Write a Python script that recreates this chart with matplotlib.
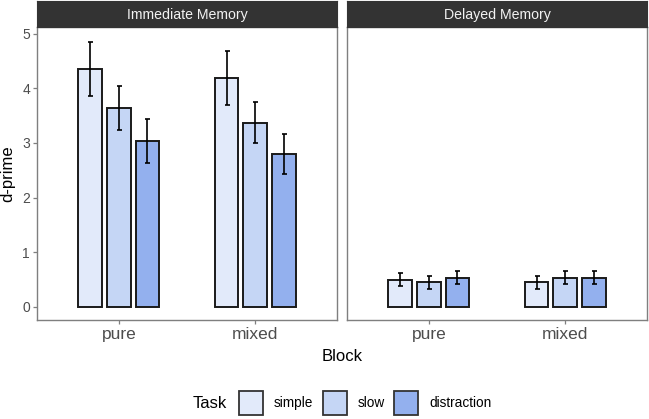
import numpy as np
import matplotlib
matplotlib.use("Agg")
import matplotlib.pyplot as plt
from matplotlib.patches import Rectangle

plt.rcParams['font.family'] = ['Liberation Sans', 'DejaVu Sans']

panels = ["Immediate Memory", "Delayed Memory"]
blocks = ["pure", "mixed"]
tasks = ["simple", "slow", "distraction"]
colors = ["#E2EAFA", "#C5D6F5", "#93B0EE"]

# mean d-prime [panel][task][block]
means = {
    "Immediate Memory": [[4.35, 4.19], [3.64, 3.37], [3.04, 2.80]],
    "Delayed Memory": [[0.50, 0.45], [0.45, 0.53], [0.53, 0.53]],
}
errs = {
    "Immediate Memory": [[0.50, 0.50], [0.40, 0.38], [0.40, 0.37]],
    "Delayed Memory": [[0.12, 0.12], [0.12, 0.12], [0.12, 0.12]],
}

W, H = 649, 419
fig = plt.figure(figsize=(W / 100, H / 100), dpi=100)

def fx(px):
    return px / W

def fy(py):
    return 1 - py / H

panel_left = [37, 347]
panel_w = 300
top, bottom = 27, 320
strip_top = 1

dodge = 0.21
bw = 0.175
x = np.arange(1, len(blocks) + 1)

for i, name in enumerate(panels):
    ax = fig.add_axes([fx(panel_left[i]), fy(bottom), panel_w / W, (bottom - top) / H])
    for j, task in enumerate(tasks):
        pos = x + (j - 1) * dodge
        ax.bar(pos, means[name][j], width=bw, color=colors[j], edgecolor="#1a1a1a",
               linewidth=1.4, zorder=2)
        ax.errorbar(pos, means[name][j], yerr=errs[name][j], fmt="none", ecolor="black",
                    elinewidth=1.2, capsize=1.8, capthick=1.2, zorder=3)
    ax.set_xlim(0.4, 2.6)
    ax.set_ylim(-0.24, 5.12)
    ax.set_xticks(x)
    ax.set_xticklabels(blocks, fontsize=12.5, color="#4d4d4d")
    ax.set_yticks(range(6))
    if i == 0:
        ax.set_yticklabels([str(v) for v in range(6)], fontsize=10, color="#4d4d4d")
        ax.set_ylabel("d-prime", fontsize=12, labelpad=5)
    else:
        ax.tick_params(axis="y", left=False, labelleft=False)
    ax.tick_params(axis="both", color="#7f7f7f", length=3, width=0.9, pad=2)
    for s in ax.spines.values():
        s.set_color("#7f7f7f")
        s.set_linewidth(1.0)
    # facet strip
    sax = fig.add_axes([fx(panel_left[i]), fy(top), panel_w / W, (top - strip_top) / H])
    sax.set_facecolor("#333333")
    sax.set_xticks([])
    sax.set_yticks([])
    for s in sax.spines.values():
        s.set_color("#333333")
    sax.text(0.5, 0.45, name, transform=sax.transAxes, ha="center", va="center",
             color="#f2f2f2", fontsize=10.2)

fig.text(fx(342), fy(356), "Block", ha="center", va="center", fontsize=12)

# legend
ly = 403
fig.text(fx(193), fy(ly), "Task", ha="left", va="center", fontsize=12)
key_x = [239, 323, 394]
for k, task in enumerate(tasks):
    fig.patches.append(Rectangle((fx(key_x[k]), fy(ly + 12)), 24 / W, 24 / H,
                                 transform=fig.transFigure, facecolor=colors[k],
                                 edgecolor="#333333", linewidth=1.3))
    fig.text(fx(key_x[k] + 35), fy(ly), task, ha="left", va="center", fontsize=9.8)

fig.savefig("out.png", dpi=100)
